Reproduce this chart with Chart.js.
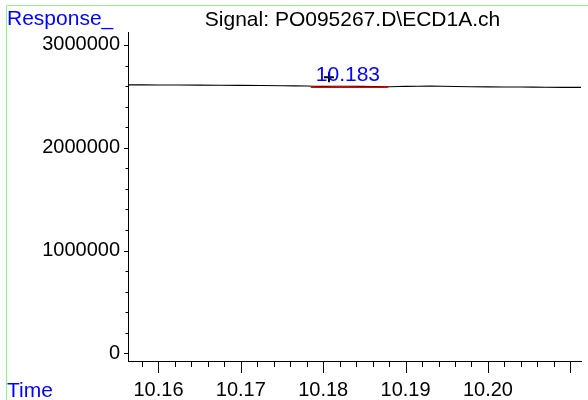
<!DOCTYPE html>
<html>
<head>
<meta charset="utf-8">
<title>ECD1A signal</title>
<script src="https://cdn.jsdelivr.net/npm/chart.js@4.4.0/dist/chart.umd.min.js"></script>
<style>
  body { margin: 0; background: #fff; }
  #wrap { width: 588px; height: 400px; }
</style>
</head>
<body>
<div id="wrap"><canvas id="myChart" width="588" height="400"></canvas></div>
<script>
// signal trace (retention time in min, response)
var traceTimes  = [10.1563, 10.160, 10.165, 10.170, 10.175, 10.178, 10.180, 10.183, 10.186, 10.188, 10.190, 10.193, 10.196, 10.200, 10.204, 10.207, 10.2113];
var traceValues = [2612000, 2611000, 2609000, 2607000, 2603000, 2600000, 2597000, 2598000, 2595000, 2594000, 2597000, 2599000, 2596000, 2592000, 2591000, 2588000, 2587000];

// integration baseline of the peak
var baseTimes  = [10.1785, 10.1879];
var baseValues = [2589000, 2589000];

// peak apex marker and its retention time label
var peakTime = 10.183;
var peakLabel = "10.183";
var apexTime = 10.1807;
var apexValue = 2685000;

// axis ticks
var xMajorTicks = [10.16, 10.17, 10.18, 10.19, 10.20, 10.21];
var xTickLabels = ["10.16", "10.17", "10.18", "10.19", "10.20", ""];
var xMinorStep = 0.002;
var yMajorTicks = [0, 1000000, 2000000, 3000000];
var yTickLabels = ["0", "1000000", "2000000", "3000000"];
var yMinorStep = 200000;

var titleText = "Signal: PO095267.D\\ECD1A.ch";
var yTitle = "Response_";
var xTitle = "Time";

var FONT = "'Liberation Sans', Arial, sans-serif";

function pts(xs, ys) {
    var out = [];
    for (var i = 0; i < xs.length; i++) out.push({ x: xs[i], y: ys[i] });
    return out;
}

// tick marks, frame and the texts around the plot
var decor = {
    id: 'decor',
    afterDraw: function (chart) {
        var ctx = chart.ctx;
        var xs = chart.scales.x, ys = chart.scales.y;
        var area = chart.chartArea;
        ctx.save();

        // green frame
        ctx.strokeStyle = '#93ee93';
        ctx.lineWidth = 1;
        ctx.beginPath();
        ctx.moveTo(6.5, 400);
        ctx.lineTo(6.5, 5.5);
        ctx.lineTo(588, 5.5);
        ctx.stroke();

        // x ticks
        ctx.strokeStyle = '#000';
        ctx.beginPath();
        var v;
        for (v = Math.ceil(xs.min / xMinorStep) * xMinorStep; v <= xs.max; v += xMinorStep) {
            var px = Math.round(xs.getPixelForValue(v)) + 0.5;
            ctx.moveTo(px, area.bottom);
            ctx.lineTo(px, area.bottom + 6);
        }
        xMajorTicks.forEach(function (t) {
            var px = Math.round(xs.getPixelForValue(t)) + 0.5;
            ctx.moveTo(px, area.bottom);
            ctx.lineTo(px, area.bottom + 12);
        });
        // y ticks
        for (v = 0; v <= ys.max; v += yMinorStep) {
            var py = Math.round(ys.getPixelForValue(v)) + 0.5;
            ctx.moveTo(area.left, py);
            ctx.lineTo(area.left - 2.5, py);
        }
        yMajorTicks.forEach(function (t) {
            var py = Math.round(ys.getPixelForValue(t)) + 0.5;
            ctx.moveTo(area.left, py);
            ctx.lineTo(area.left - 4, py);
        });
        ctx.stroke();

        // title
        ctx.fillStyle = '#000';
        ctx.font = '21px ' + FONT;
        ctx.textAlign = 'center';
        ctx.textBaseline = 'alphabetic';
        ctx.fillText(titleText, (area.left + area.right) / 2 - 2, 26);

        // axis names
        ctx.fillStyle = '#0000ff';
        ctx.textAlign = 'left';
        ctx.fillText(yTitle, 7, 25);
        ctx.fillText(xTitle, 7, 397);

        // peak label
        ctx.textAlign = 'center';
        ctx.fillText(peakLabel, xs.getPixelForValue(peakTime), ys.getPixelForValue(baseValues[0]) - 6);
        ctx.restore();
    }
};

new Chart("myChart", {
    type: "line",
    data: {
        datasets: [{
            data: pts(traceTimes, traceValues),
            borderColor: "#000",
            borderWidth: 1.1,
            pointRadius: 0,
            tension: 0.3,
            fill: false,
            order: 2
        }, {
            data: pts(baseTimes, baseValues),
            borderColor: "#e00000",
            borderWidth: 1.4,
            pointRadius: 0,
            fill: false,
            order: 1
        }, {
            data: [{ x: apexTime, y: apexValue }],
            showLine: false,
            pointStyle: "cross",
            pointRadius: 5,
            borderColor: "#000",
            borderWidth: 2,
            order: 0
        }]
    },
    options: {
        responsive: false,
        animation: false,
        layout: { padding: { top: 32, right: 7, left: 0, bottom: 0 } },
        plugins: {
            legend: { display: false },
            tooltip: { enabled: false }
        },
        scales: {
            x: {
                type: "linear",
                min: 10.1563,
                max: 10.2113,
                grid: { display: false },
                border: { display: true, color: "#000", width: 1 },
                afterBuildTicks: function (s) {
                    s.ticks = xMajorTicks.map(function (t) { return { value: t }; });
                },
                afterFit: function (s) { s.height = 39; },
                ticks: {
                    color: "#000",
                    font: { family: FONT, size: 20 },
                    padding: 9,
                    maxRotation: 0,
                    autoSkip: false,
                    callback: function (value, index) { return xTickLabels[index]; }
                }
            },
            y: {
                type: "linear",
                min: -75000,
                max: 3126000,
                grid: { display: false },
                border: { display: true, color: "#000", width: 1 },
                afterBuildTicks: function (s) {
                    s.ticks = yMajorTicks.map(function (t) { return { value: t }; });
                },
                afterFit: function (s) { s.width = 128; },
                ticks: {
                    color: "#000",
                    font: { family: FONT, size: 20 },
                    padding: 0,
                    callback: function (value, index) { return yTickLabels[index]; }
                }
            }
        }
    },
    plugins: [decor]
});
</script>
</body>
</html>
